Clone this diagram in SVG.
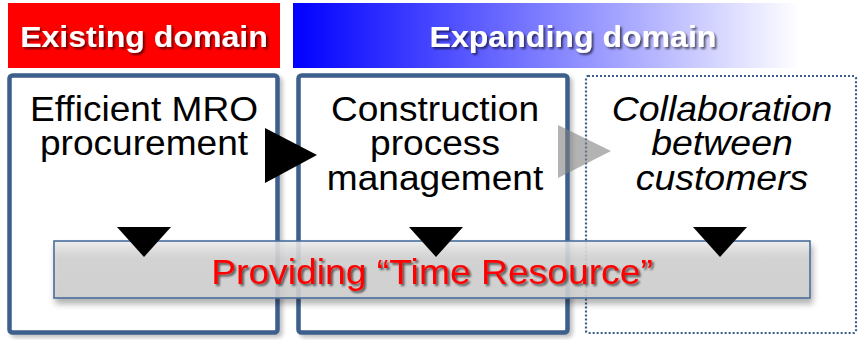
<svg xmlns="http://www.w3.org/2000/svg" width="865" height="340" viewBox="0 0 865 340">
  <defs>
    <linearGradient id="expandGrad" x1="0" y1="0" x2="1" y2="0">
      <stop offset="0" stop-color="#0000ff"/>
      <stop offset="1" stop-color="#ffffff"/>
    </linearGradient>
    <linearGradient id="barGrad" x1="0" y1="0" x2="0" y2="1">
      <stop offset="0" stop-color="#ececec"/>
      <stop offset="0.3" stop-color="#d2d2d2"/>
      <stop offset="1" stop-color="#cfcfcf"/>
    </linearGradient>
    <filter id="boxShadow" x="-5%" y="-5%" width="112%" height="112%">
      <feGaussianBlur in="SourceAlpha" stdDeviation="2"/>
      <feOffset dx="3" dy="3" result="b"/>
      <feComponentTransfer><feFuncA type="linear" slope="0.25"/></feComponentTransfer>
      <feMerge><feMergeNode/><feMergeNode in="SourceGraphic"/></feMerge>
    </filter>
    <filter id="barShadow" x="-5%" y="-20%" width="110%" height="150%">
      <feGaussianBlur in="SourceAlpha" stdDeviation="3"/>
      <feOffset dx="2" dy="5" result="b"/>
      <feComponentTransfer><feFuncA type="linear" slope="0.35"/></feComponentTransfer>
      <feMerge><feMergeNode/><feMergeNode in="SourceGraphic"/></feMerge>
    </filter>
    <filter id="textShadow" x="-5%" y="-20%" width="110%" height="150%">
      <feGaussianBlur in="SourceAlpha" stdDeviation="0.8"/>
      <feOffset dx="1.5" dy="1.5" result="b"/>
      <feComponentTransfer><feFuncA type="linear" slope="0.6"/></feComponentTransfer>
      <feMerge><feMergeNode/><feMergeNode in="SourceGraphic"/></feMerge>
    </filter>
  </defs>
  <style>
    .hdr { font-family: "Liberation Sans", Arial, sans-serif; font-weight: bold; font-size: 30px; fill: #ffffff; text-anchor: middle; }
    .box { fill: #ffffff; stroke: #3c5e8b; stroke-width: 4.5; }
    .dotbox { fill: #ffffff; stroke: #3c5e8b; stroke-width: 2.2; stroke-dasharray: 2 2; }
    .lbl { font-family: "Liberation Sans", Arial, sans-serif; font-size: 35px; fill: #000000; text-anchor: middle; }
    .it { font-style: italic; }
    .tri { fill: #000000; }
    .bartext { font-family: "Liberation Sans", Arial, sans-serif; font-size: 35px; fill: #ff0000; text-anchor: middle; }
  </style>

  <rect width="865" height="340" fill="#ffffff"/>

  <!-- domain headers (text slightly widened) -->
  <g id="existing-domain">
    <rect x="8" y="3" width="272" height="65" fill="#ff0000"/>
    <text class="hdr" transform="translate(144,47) scale(1.07,1)" filter="url(#textShadow)">Existing domain</text>
  </g>
  <g id="expanding-domain">
    <rect x="293" y="3" width="507" height="65" fill="url(#expandGrad)"/>
    <text class="hdr" transform="translate(573,47) scale(1.07,1)" filter="url(#textShadow)">Expanding domain</text>
  </g>

  <!-- stage boxes; multi-line labels kept as one text each -->
  <g id="mro-procurement">
    <rect class="box" x="9.5" y="75.5" width="268" height="257" rx="3" filter="url(#boxShadow)"/>
    <text class="lbl" transform="translate(144,121) scale(1.06,1)"><tspan x="0" y="0">Efficient MRO</tspan><tspan x="0" dy="34.5">procurement</tspan></text>
  </g>
  <g id="construction-management">
    <rect class="box" x="298.5" y="75.5" width="269" height="257" rx="3" filter="url(#boxShadow)"/>
    <text class="lbl" transform="translate(435,121) scale(1.06,1)"><tspan x="0" y="0">Construction</tspan><tspan x="0" dy="34.5">process</tspan><tspan x="0" dy="34.5">management</tspan></text>
  </g>
  <g id="customer-collaboration">
    <rect class="dotbox" x="586" y="76" width="270" height="257" rx="2"/>
    <text class="lbl it" transform="translate(722,121) scale(1.07,1)"><tspan x="0" y="0">Collaboration</tspan><tspan x="0" dy="34.5">between</tspan><tspan x="0" dy="34.5">customers</tspan></text>
  </g>

  <!-- connectors between stages -->
  <g id="connectors">
    <polygon points="265,128 317,155 265,183" fill="#000000"/>
    <polygon points="558,125 611,151 558,178" fill="#808080" fill-opacity="0.6"/>
  </g>

  <!-- shared outcome bar -->
  <g id="time-resource">
    <rect x="54" y="241" width="756" height="57" fill="url(#barGrad)" fill-opacity="0.88" stroke="#4a6d9c" stroke-width="1.6" filter="url(#barShadow)"/>
    <text class="bartext" transform="translate(432,283.5) scale(1.065,1)" filter="url(#textShadow)">Providing “Time Resource”</text>
  </g>

  <!-- markers pointing into the bar -->
  <g id="down-markers">
    <polygon class="tri" points="117,227 171,227 144,257"/>
    <polygon class="tri" points="409,227 463,227 436,257"/>
    <polygon class="tri" points="693,227 747,227 720,257"/>
  </g>
</svg>
